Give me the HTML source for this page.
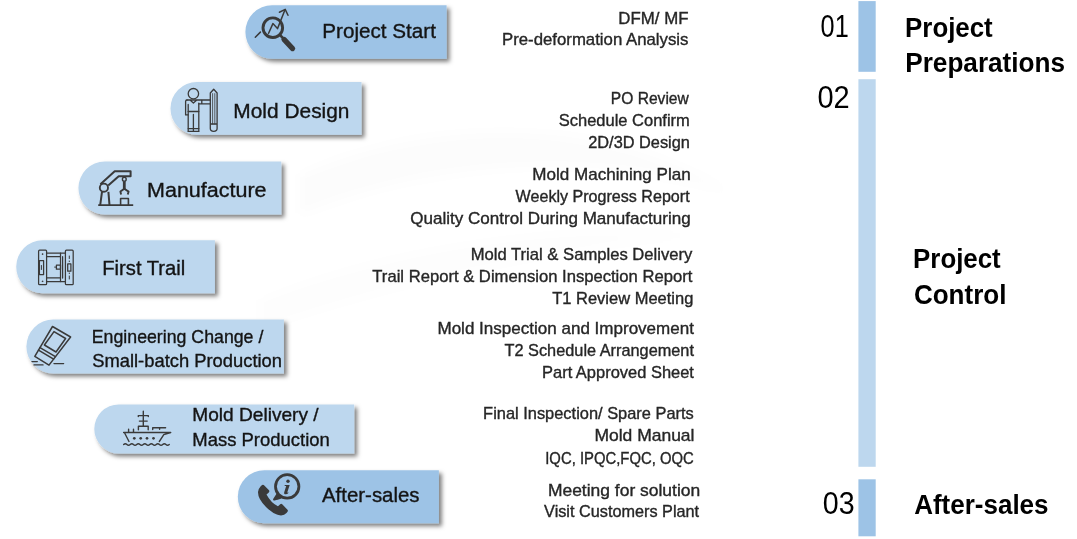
<!DOCTYPE html>
<html><head><meta charset="utf-8"><title>Mold Project Flow</title>
<style>
html,body{margin:0;padding:0;background:#fff;}
body{width:1077px;height:539px;overflow:hidden;position:relative;}
svg{position:absolute;left:0;top:0;display:block;}
text{font-family:"Liberation Sans",sans-serif;}
</style></head><body>
<svg width="1077" height="539" viewBox="0 0 1077 539">
<defs>
<filter id="sh" x="-10%" y="-20%" width="130%" height="150%">
<feDropShadow dx="3" dy="3" stdDeviation="2.2" flood-color="#000" flood-opacity="0.5"/>
</filter>
<filter id="blur" x="-50%" y="-50%" width="200%" height="200%"><feGaussianBlur stdDeviation="6"/></filter>
</defs>
<g id="bg"><g filter="url(#blur)" opacity="1">
 <path d="M300,175 C420,120 600,110 735,195 C600,150 430,160 300,215 Z" fill="#000" opacity="0.011"/>
 <path d="M260,300 C380,250 560,220 700,235 C560,250 400,280 260,330 Z" fill="#000" opacity="0.008"/>
</g>
</g>
<g id="pills"><path d="M272.10,5.30 H446.60 V58.70 H272.10 A26.70,26.70 0 0 1 272.10,5.30 Z" fill="#9DC3E6" filter="url(#sh)"/><path d="M196.85,82.10 H361.50 V134.80 H196.85 A26.35,26.35 0 0 1 196.85,82.10 Z" fill="#BDD7EE" filter="url(#sh)"/><path d="M104.85,161.60 H281.30 V214.50 H104.85 A26.45,26.45 0 0 1 104.85,161.60 Z" fill="#BDD7EE" filter="url(#sh)"/><path d="M42.75,240.20 H214.90 V293.30 H42.75 A26.55,26.55 0 0 1 42.75,240.20 Z" fill="#BDD7EE" filter="url(#sh)"/><path d="M53.40,319.50 H283.90 V373.50 H53.40 A27.00,27.00 0 0 1 53.40,319.50 Z" fill="#BDD7EE" filter="url(#sh)"/><path d="M118.85,404.40 H354.20 V453.50 H118.85 A24.55,24.55 0 0 1 118.85,404.40 Z" fill="#BDD7EE" filter="url(#sh)"/><path d="M264.35,470.20 H438.90 V523.30 H264.35 A26.55,26.55 0 0 1 264.35,470.20 Z" fill="#9DC3E6" filter="url(#sh)"/></g>
<g id="bars"><rect x="858.4" y="1.1" width="17.30" height="70.70" fill="#9DC3E6"/><rect x="858.4" y="79.2" width="17.30" height="387.60" fill="#BDD7EE"/><rect x="858.4" y="479.3" width="17.30" height="57.00" fill="#9DC3E6"/></g>
<g id="icons"><g fill="none" stroke="#3a3a3a" stroke-linecap="round" stroke-linejoin="round">
 <!-- magnifier with chart -->
 <g>
  <circle cx="272.8" cy="27.7" r="9.8" stroke-width="2.9"/>
  <path d="M280,35 L283.5,38.6" stroke-width="2.6"/>
  <path d="M284,39.4 L292.6,48.6" stroke-width="5.2"/>
  <path d="M255.3,37.3 L260.4,32.1" stroke-width="1.5"/>
  <path d="M268.6,33.3 L272.9,23.6 L277.5,28.6 L285,9.8" stroke-width="1.5"/>
  <path d="M279.4,12.2 L285.2,9.4 L288,15.3" stroke-width="1.5"/>
 </g>
 <!-- person with pencil -->
 <g stroke-width="1.3">
  <circle cx="193.4" cy="93.7" r="5.2"/>
  <path d="M187,100 H210.3 M190,100 L193.4,103 L196.8,100"/>
  <path d="M187,100 Q185.6,100 185.6,101.6 V114.9 H188.2"/>
  <path d="M188.2,104.5 V131.3 M198.8,103.2 V131.3"/>
  <path d="M198.8,103.8 H210.3 M201.8,100.3 V103.8"/>
  <path d="M188.2,111.5 H198.8 M193.4,114.5 V131.3 M188.2,128.6 H198.8 M188.2,131.3 H198.8"/>
  <path d="M210.3,93 L213.7,89.2 L217.1,93 V128.6 Q217.1,131.4 213.7,131.4 Q210.3,131.4 210.3,128.6 Z M210.3,124 H217.1"/><path d="M212.6,93.6 V124 M214.8,93.6 V124" stroke-width="0.8"/>
 </g>
 <!-- robot arm -->
 <g stroke-width="2" stroke-linecap="butt">
  <path d="M98.2,205.1 H133.2" stroke-width="1.9"/>
  <path d="M100.2,205.1 L102,191.9 M109.5,205.1 L108.4,191.9"/>
  <circle cx="103.9" cy="187.7" r="4.1" stroke-width="1.9"/>
  <path d="M100.4,184.3 L114.7,171.3 H130.6 V176.2 H118.7 L108.2,185.6"/>
  <path d="M114.5,180 L116.4,178.1" stroke-width="1.2"/>
  <circle cx="124.3" cy="179.2" r="1.9" stroke-width="1.4"/>
  <path d="M124.3,181.2 V189.8" stroke-width="2.8"/>
  <path d="M124.3,188.8 L120.4,191.6 L121.1,194.4 M124.3,188.8 L128.6,191.6 L127.8,194.4" stroke-width="1.9"/>
  <path d="M120.6,205.1 V198.5 H128.4 V205.1" stroke-width="1.6"/>
 </g>
 <!-- mold machine -->
 <g stroke-width="1.25">
  <rect x="38.6" y="250.2" width="8" height="34.5" rx="1"/>
  <rect x="65.4" y="250.2" width="7.8" height="34.5" rx="1"/>
  <path d="M46.6,253.2 H65.4 M46.6,256.7 H60.3 M46.6,277.9 H60.3 M46.6,281.6 H65.4"/>
  <path d="M60.5,253.2 V281.6 M62.6,256.7 V278"/>
  <rect x="56.4" y="265" width="4.1" height="4.2"/>
  <path d="M54.6,267.1 H56.4" stroke-width="1"/>
  <rect x="39.4" y="260.7" width="4.2" height="13.9"/>
  <path d="M41.4,265.5 V269.5" stroke-width="1"/>
  <rect x="67.7" y="263.9" width="3.2" height="7.3"/>
  <path d="M69.3,256 V258.5 M69.3,261 V261.6 M69.3,273 V273.6 M69.3,276 V279" stroke-width="1"/>
  <circle cx="42.4" cy="254.1" r="0.35" stroke-width="1"/>
  <circle cx="42.4" cy="281.3" r="0.35" stroke-width="1"/>
 </g>
 <!-- eraser -->
 <g stroke-width="1.5">
  <path d="M52.5,326.5 L70.6,337 L49,365.1 L34.8,356.3 Z"/>
  <path d="M54,331.6 L65.6,338.5 L56,352 L44.4,345 Z"/>
  <path d="M40,347.6 L55.4,356.7 M38.5,350.1 L53.6,359.1"/>
  <path d="M32,361.6 H37.3 M34,364.9 H43 M54,363.6 H63.6" stroke-width="1.4"/>
 </g>
 <!-- ship -->
 <g stroke-width="1.4">
  <path d="M123.6,432.5 H170.7 L163.8,434.7 L159.3,441.5 M124.5,432.8 L129,441.5"/>
  <path d="M143.3,411.2 V426.2 M138.3,415.6 H148.3 M138.3,415.6 V416.6 M148.3,415.6 V416.6 M139.4,421.1 H147.2"/>
  <path d="M138.4,429.8 V426.2 H148.2 V429.8"/>
  <path d="M152.7,429.6 V427.7 H165.6 M159.6,427.7 V429.2"/>
  <path d="M128.6,429.2 V432.3 M133.5,429.2 V432.3"/>
  <path d="M123.7,444.5 q1.6,-1.6 3.25,0 q1.6,1.6 3.25,0 q1.6,-1.6 3.25,0 q1.6,1.6 3.25,0 q1.6,-1.6 3.25,0 q1.6,1.6 3.25,0 q1.6,-1.6 3.25,0 q1.6,1.6 3.25,0 q1.6,-1.6 3.25,0 q1.6,1.6 3.25,0 q1.6,-1.6 3.25,0 q1.6,1.6 3.25,0 q1.6,-1.6 3.25,0 q1.6,1.6 3.25,0" stroke-width="1.5"/>
 </g>
 <g fill="#3a3a3a" stroke="none">
  <circle cx="134.3" cy="438.3" r="1.35"/><circle cx="140.7" cy="438.3" r="1.35"/><circle cx="147" cy="438.3" r="1.35"/><circle cx="153.5" cy="438.3" r="1.35"/>
 </g>
 <!-- phone + info -->
 <g>
  <circle cx="287.2" cy="486.4" r="11.7" stroke-width="2.8"/>
  <path d="M277.5,494.5 L274.3,499.4 L280.5,497.5" stroke-width="2.4" fill="#3a3a3a"/>
 </g>
 <g fill="#3a3a3a" stroke="none">
  <circle cx="288" cy="481.3" r="1.7"/>
  <path d="M284.8,485 H289.7 L287.4,492 Q287.2,493 288.4,492.4 L288.7,492.8 Q286.7,494.8 284.8,494.2 Q283.7,493.8 284.2,492.2 L286.2,486.1 H284.6 Z"/>
  <path d="M260.5,486.5 Q258.5,488.5 258,492 Q257.8,499 266,507 Q274,515 281,515.5 Q284.5,515.3 286.5,513 L287.5,511.8 Q288.3,510.8 287.5,509.8 L282.2,504.2 Q281.2,503.3 280.2,504.2 L278,506.3 Q271,503 266.5,494.5 L268.8,492.5 Q269.8,491.5 269,490.3 L263.8,485 Q262.5,484.3 261.5,485.5 Z"/>
 </g>
</g>
</g>
<g id="texts">
<text x="618.39" y="23.80" font-size="15.9" font-weight="400" fill="#262626" stroke="#262626" stroke-width="0.35" textLength="70.06" lengthAdjust="spacingAndGlyphs">DFM/ MF</text>
<text x="502.00" y="45.20" font-size="15.9" font-weight="400" fill="#262626" stroke="#262626" stroke-width="0.35" textLength="186.43" lengthAdjust="spacingAndGlyphs">Pre-deformation Analysis</text>
<text x="610.78" y="103.80" font-size="15.9" font-weight="400" fill="#262626" stroke="#262626" stroke-width="0.35" textLength="78.03" lengthAdjust="spacingAndGlyphs">PO Review</text>
<text x="558.78" y="125.60" font-size="15.9" font-weight="400" fill="#262626" stroke="#262626" stroke-width="0.35" textLength="131.07" lengthAdjust="spacingAndGlyphs">Schedule Confirm</text>
<text x="588.23" y="147.60" font-size="15.9" font-weight="400" fill="#262626" stroke="#262626" stroke-width="0.35" textLength="101.68" lengthAdjust="spacingAndGlyphs">2D/3D Design</text>
<text x="532.37" y="179.50" font-size="15.9" font-weight="400" fill="#262626" stroke="#262626" stroke-width="0.35" textLength="158.29" lengthAdjust="spacingAndGlyphs">Mold Machining Plan</text>
<text x="515.60" y="201.80" font-size="15.9" font-weight="400" fill="#262626" stroke="#262626" stroke-width="0.35" textLength="174.05" lengthAdjust="spacingAndGlyphs">Weekly Progress Report</text>
<text x="410.30" y="224.00" font-size="15.9" font-weight="400" fill="#262626" stroke="#262626" stroke-width="0.35" textLength="280.36" lengthAdjust="spacingAndGlyphs">Quality Control During Manufacturing</text>
<text x="470.70" y="260.30" font-size="15.9" font-weight="400" fill="#262626" stroke="#262626" stroke-width="0.35" textLength="221.70" lengthAdjust="spacingAndGlyphs">Mold Trial &amp; Samples Delivery</text>
<text x="372.34" y="282.30" font-size="15.9" font-weight="400" fill="#262626" stroke="#262626" stroke-width="0.35" textLength="320.00" lengthAdjust="spacingAndGlyphs">Trail Report &amp; Dimension Inspection Report</text>
<text x="552.24" y="304.40" font-size="15.9" font-weight="400" fill="#262626" stroke="#262626" stroke-width="0.35" textLength="141.08" lengthAdjust="spacingAndGlyphs">T1 Review Meeting</text>
<text x="437.47" y="333.70" font-size="15.9" font-weight="400" fill="#262626" stroke="#262626" stroke-width="0.35" textLength="256.47" lengthAdjust="spacingAndGlyphs">Mold Inspection and Improvement</text>
<text x="504.55" y="355.80" font-size="15.9" font-weight="400" fill="#262626" stroke="#262626" stroke-width="0.35" textLength="189.40" lengthAdjust="spacingAndGlyphs">T2 Schedule Arrangement</text>
<text x="542.02" y="377.90" font-size="15.9" font-weight="400" fill="#262626" stroke="#262626" stroke-width="0.35" textLength="151.92" lengthAdjust="spacingAndGlyphs">Part Approved Sheet</text>
<text x="483.12" y="418.90" font-size="15.9" font-weight="400" fill="#262626" stroke="#262626" stroke-width="0.35" textLength="210.69" lengthAdjust="spacingAndGlyphs">Final Inspection/ Spare Parts</text>
<text x="594.44" y="440.70" font-size="15.9" font-weight="400" fill="#262626" stroke="#262626" stroke-width="0.35" textLength="100.02" lengthAdjust="spacingAndGlyphs">Mold Manual</text>
<text x="545.24" y="463.50" font-size="15.9" font-weight="400" fill="#262626" stroke="#262626" stroke-width="0.35" textLength="148.58" lengthAdjust="spacingAndGlyphs">IQC, IPQC,FQC, OQC</text>
<text x="547.94" y="495.60" font-size="15.9" font-weight="400" fill="#262626" stroke="#262626" stroke-width="0.35" textLength="152.24" lengthAdjust="spacingAndGlyphs">Meeting for solution</text>
<text x="544.10" y="517.40" font-size="15.9" font-weight="400" fill="#262626" stroke="#262626" stroke-width="0.35" textLength="155.04" lengthAdjust="spacingAndGlyphs">Visit Customers Plant</text>
<text x="322.29" y="37.90" font-size="19.9" font-weight="400" fill="#141414" stroke="#141414" stroke-width="0.35" textLength="113.64" lengthAdjust="spacingAndGlyphs">Project Start</text>
<text x="233.37" y="117.50" font-size="19.9" font-weight="400" fill="#141414" stroke="#141414" stroke-width="0.35" textLength="116.10" lengthAdjust="spacingAndGlyphs">Mold Design</text>
<text x="147.02" y="197.00" font-size="19.9" font-weight="400" fill="#141414" stroke="#141414" stroke-width="0.35" textLength="119.55" lengthAdjust="spacingAndGlyphs">Manufacture</text>
<text x="102.23" y="274.80" font-size="19.9" font-weight="400" fill="#141414" stroke="#141414" stroke-width="0.35" textLength="83.10" lengthAdjust="spacingAndGlyphs">First Trail</text>
<text x="91.81" y="342.60" font-size="18.2" font-weight="400" fill="#141414" stroke="#141414" stroke-width="0.35" textLength="171.52" lengthAdjust="spacingAndGlyphs">Engineering Change /</text>
<text x="92.23" y="367.00" font-size="18.2" font-weight="400" fill="#141414" stroke="#141414" stroke-width="0.35" textLength="189.80" lengthAdjust="spacingAndGlyphs">Small-batch Production</text>
<text x="192.21" y="420.60" font-size="18.2" font-weight="400" fill="#141414" stroke="#141414" stroke-width="0.35" textLength="126.43" lengthAdjust="spacingAndGlyphs">Mold Delivery /</text>
<text x="192.26" y="445.60" font-size="18.2" font-weight="400" fill="#141414" stroke="#141414" stroke-width="0.35" textLength="137.58" lengthAdjust="spacingAndGlyphs">Mass Production</text>
<text x="322.00" y="501.80" font-size="19.9" font-weight="400" fill="#141414" stroke="#141414" stroke-width="0.35" textLength="97.54" lengthAdjust="spacingAndGlyphs">After-sales</text>
<text x="820.61" y="36.60" font-size="30.5" font-weight="400" fill="#000" stroke="#000" stroke-width="0" textLength="28.11" lengthAdjust="spacingAndGlyphs">01</text>
<text x="817.49" y="107.90" font-size="30.5" font-weight="400" fill="#000" stroke="#000" stroke-width="0" textLength="32.28" lengthAdjust="spacingAndGlyphs">02</text>
<text x="822.71" y="513.50" font-size="30.5" font-weight="400" fill="#000" stroke="#000" stroke-width="0" textLength="31.86" lengthAdjust="spacingAndGlyphs">03</text>
<text x="905.08" y="36.70" font-size="27.3" font-weight="700" fill="#000" stroke="#000" stroke-width="0" textLength="87.64" lengthAdjust="spacingAndGlyphs">Project</text>
<text x="905.27" y="72.00" font-size="27.3" font-weight="700" fill="#000" stroke="#000" stroke-width="0" textLength="159.79" lengthAdjust="spacingAndGlyphs">Preparations</text>
<text x="913.08" y="267.60" font-size="27.3" font-weight="700" fill="#000" stroke="#000" stroke-width="0" textLength="87.64" lengthAdjust="spacingAndGlyphs">Project</text>
<text x="913.89" y="303.50" font-size="27.3" font-weight="700" fill="#000" stroke="#000" stroke-width="0" textLength="92.55" lengthAdjust="spacingAndGlyphs">Control</text>
<text x="914.19" y="513.50" font-size="27.3" font-weight="700" fill="#000" stroke="#000" stroke-width="0" textLength="134.36" lengthAdjust="spacingAndGlyphs">After-sales</text>
</g>
</svg>
</body></html>
